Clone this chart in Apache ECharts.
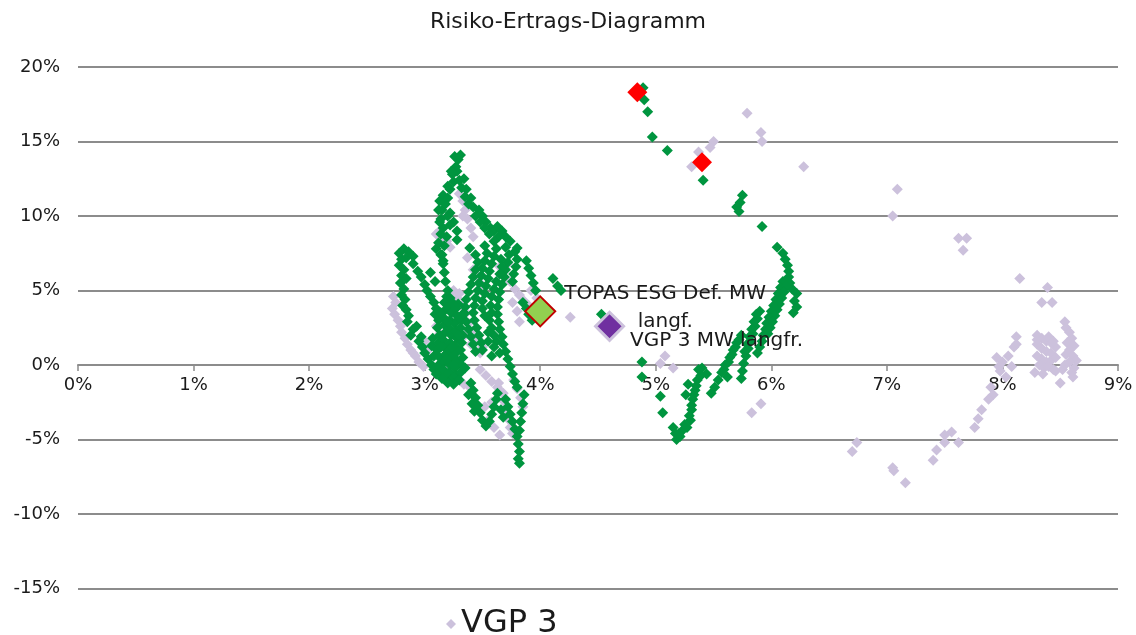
<!DOCTYPE html>
<html>
<head>
<meta charset="utf-8">
<title>Risiko-Ertrags-Diagramm</title>
<script src="https://cdn.jsdelivr.net/npm/echarts@6/dist/echarts.min.js"></script>
<style>
  html, body { margin: 0; padding: 0; background: #fff; }
  #chart { width: 1136px; height: 635px; }
</style>
</head>
<body>
<div id="chart"></div>
<script>
// Werte in Prozent: [Risiko, Ertrag]
const xTicks = [0, 1, 2, 3, 4, 5, 6, 7, 8, 9]
const yTicks = [-15, -10, -5, 0, 5, 10, 15, 20]

// TOPAS ESG Def. - einzelne Zeitfenster
const topasLeftLoop = [
  [2.78,7.5],[2.82,7.8],[2.86,7.6],[2.8,7.1],[2.84,7.2],[2.9,7.3],[2.78,6.7],[2.82,6.4],[2.8,6.0],
  [2.84,5.8],[2.79,5.5],[2.82,5.1],[2.8,4.7],[2.83,4.4],[2.81,4.0],[2.84,3.7],[2.86,3.3],[2.85,2.9],
  [2.9,2.4],[2.88,2.0],[2.95,1.6],[2.98,1.2],[3.0,0.8],[3.03,0.4],[3.06,0.0],[3.08,-0.3],[2.9,6.8],
  [2.94,6.3],[2.97,5.9],[3.0,5.4],[3.02,5.0],[3.05,4.6],[3.08,4.2],[3.1,3.8],[3.05,6.2],[3.09,5.6],
  [3.1,7.8],[3.14,7.4],[3.16,7.0],[2.93,2.6],[2.97,1.9]
]
const topasMainMass = [
  [3.07,1.8],[3.06,1.3],[3.08,0.6],
  [3.12,3.0],[3.11,2.5],[3.13,2.0],[3.12,1.5],[3.11,1.0],[3.13,0.5],[3.12,0.0],[3.14,-0.5],
  [3.17,4.2],[3.18,3.7],[3.16,3.2],[3.17,2.7],[3.18,2.2],[3.16,1.7],[3.17,1.2],[3.18,0.7],[3.17,0.2],[3.16,-0.3],[3.18,-0.8],
  [3.22,4.5],[3.21,4.0],[3.23,3.5],[3.22,3.0],[3.21,2.5],[3.23,2.0],[3.22,1.5],[3.21,1.0],[3.23,0.5],[3.22,0.0],[3.21,-0.5],[3.23,-1.0],
  [3.27,3.8],[3.28,3.3],[3.26,2.8],[3.27,2.3],[3.28,1.8],[3.26,1.3],[3.27,0.8],[3.28,0.3],[3.26,-0.2],[3.27,-0.7],
  [3.32,3.0],[3.31,2.5],[3.33,2.0],[3.32,1.5],[3.31,1.0],[3.33,0.5],[3.32,0.0],[3.31,-0.5],
  [3.09,3.4],[3.14,3.5],[3.19,4.6],[3.24,4.2],[3.29,4.1],[3.34,3.5],[3.35,-0.2],[3.3,-1.0],[3.25,-1.3],
  [3.2,-1.2],[3.15,-0.9],[3.1,-0.6],[3.14,1.2],[3.19,0.4],[3.24,1.2],[3.29,2.0],[3.2,2.9],[3.25,0.0]
]
const topasPeak = [
  [3.2,5.0],[3.18,5.6],[3.17,6.2],[3.16,6.8],[3.15,7.4],[3.17,8.0],[3.19,8.6],[3.16,9.2],[3.14,9.8],
  [3.15,10.4],[3.13,11.0],[3.16,11.4],[3.2,11.2],[3.22,11.8],[3.25,12.3],[3.24,12.8],[3.27,13.3],
  [3.29,13.8],[3.31,14.1],[3.28,13.0],[3.3,12.4],[3.32,11.9],[3.35,11.3],[3.38,10.8],[3.42,10.6],
  [3.47,10.4],[3.5,10.0],[3.53,9.6],[3.57,9.2],[3.6,9.0],[3.63,9.3],[3.67,9.0],[3.7,8.6],[3.74,8.3],
  [3.8,7.85],[3.28,9.0],[3.28,8.4],[3.39,7.85],[3.22,10.2],[3.25,9.6],
  [3.18,10.8],[3.2,10.0],[3.22,9.4],[3.12,10.4],[3.13,9.6],[3.14,8.8],[3.12,8.2],[3.2,12.0],
  [3.23,13.0],[3.26,14.0],[3.34,12.5],[3.36,11.8],[3.4,11.2],[3.44,10.0],[3.48,9.6],[3.52,9.2],
  [3.56,8.8],[3.64,8.6]
]
const topasMidMass = [
  [3.44,7.4],[3.46,6.9],[3.44,6.4],[3.42,5.9],[3.4,5.4],[3.38,4.9],[3.36,4.4],[3.35,3.9],[3.34,3.4],
  [3.36,2.9],[3.38,2.4],[3.4,1.9],[3.42,1.4],[3.44,0.9],
  [3.52,8.0],[3.54,7.5],[3.52,7.0],[3.5,6.5],[3.49,6.0],[3.47,5.5],[3.46,5.0],[3.44,4.5],[3.43,4.0],
  [3.42,3.5],[3.43,3.0],[3.45,2.5],[3.47,2.0],[3.49,1.5],[3.5,1.0],
  [3.6,8.3],[3.62,7.8],[3.6,7.3],[3.58,6.8],[3.56,6.3],[3.55,5.8],[3.53,5.3],[3.52,4.8],[3.5,4.3],
  [3.5,3.8],[3.52,3.3],
  [3.7,7.9],[3.73,7.4],[3.72,6.9],[3.7,6.4],[3.69,5.9],[3.67,5.4],[3.65,4.9],[3.64,4.4],[3.63,3.9],
  [3.63,3.4],[3.64,2.9],[3.65,2.4],[3.67,1.9],[3.68,1.4],[3.7,0.9],[3.72,0.4],[3.74,-0.1],[3.76,-0.6],[3.78,-1.1],
  [3.78,7.6],[3.8,7.1],[3.79,6.6],[3.77,6.1],[3.76,5.6],[3.88,7.0],[3.9,6.5],[3.92,6.0],[3.94,5.5],
  [3.96,5.0],[3.85,4.2],[3.88,3.8],[3.9,3.4],[3.93,3.0],[4.11,5.8],[4.15,5.3],[4.18,5.0],[4.53,3.4],
  [3.57,4.0],[3.58,3.5],[3.56,3.0],[3.58,2.5],[3.6,2.0],[3.62,1.6],[3.55,2.2],[3.66,7.1],[3.67,6.6],
  [3.65,6.1],[3.62,5.6],[3.6,5.1],[3.58,4.6]
]
const topasLowerTail = [
  [3.55,1.6],[3.6,1.2],[3.65,0.8],[3.58,0.6],
  [3.4,-1.2],[3.42,-1.7],[3.44,-2.2],[3.46,-2.7],[3.48,-3.2],[3.5,-3.7],[3.53,-4.1],[3.56,-3.8],
  [3.58,-3.3],[3.6,-2.8],[3.62,-2.3],[3.63,-1.9],[3.38,-2.0],[3.41,-2.6],[3.43,-3.1],
  [3.7,-2.3],[3.72,-2.8],[3.74,-3.3],[3.76,-3.8],[3.78,-4.3],[3.8,-4.8],[3.81,-5.3],[3.82,-5.8],
  [3.81,-6.3],[3.82,-6.6],[3.86,-2.0],[3.85,-2.6],[3.84,-3.2],[3.83,-3.8],[3.82,-4.4],[3.8,-1.5],
  [3.68,-3.5],[3.66,-3.0]
]
const topasUpperRight = [
  [4.89,18.6],[4.9,17.8],[4.93,17.0],[4.97,15.3],[5.1,14.4],[5.41,12.4],[5.75,11.4],[5.73,10.9],
  [5.7,10.6],[5.72,10.3],[5.92,9.3],[6.05,7.9]
]
const topasRightStrands = [
  [6.1,7.5],[6.12,7.1],[6.14,6.7],[6.15,6.3],[6.15,5.9],[6.16,5.5],[6.18,5.1],[6.22,4.8],[6.2,4.3],
  [6.22,3.9],[6.19,3.5],[6.1,5.6],[6.08,5.2],[6.06,4.8],[6.04,4.4],[6.02,4.0],[6.0,3.6],[5.98,3.2],
  [5.96,2.8],[5.95,2.4],[5.93,2.0],[5.92,1.6],[5.9,1.2],[5.88,0.8],
  [5.9,3.6],[5.88,3.1],[5.86,2.6],[5.84,2.1],[5.82,1.6],[5.8,1.1],[5.78,0.6],[5.76,0.1],[5.75,-0.4],[5.74,-0.9],
  [5.74,2.0],[5.7,1.5],[5.67,1.0],[5.64,0.5],[5.6,0.0],[5.57,-0.5],[5.54,-1.0],[5.51,-1.5],[5.48,-1.9],[5.62,-0.8],
  [5.44,-0.6],[5.4,-0.2],[5.37,-0.3],[5.36,-1.0],[5.34,-1.7],[5.32,-2.3],[5.31,-3.0],[5.3,-3.7],
  [5.27,-4.2],[5.23,-4.4],[5.21,-4.8],[5.18,-5.0],[5.15,-4.2],[5.17,-4.6],[5.28,-1.3],[5.26,-2.0],
  [4.88,0.2],[4.88,-0.8],[5.04,-2.1],[5.06,-3.2],
  [6.13,5.3],[6.11,4.9],[6.09,4.5],[6.07,4.1],[6.05,3.7],[6.03,3.3],[6.01,2.9],[5.99,2.5],[5.97,2.1],
  [5.87,3.4],[5.85,2.9],[5.83,2.4],[5.81,1.9],[5.79,1.4],[5.77,0.9],[5.72,1.7],[5.69,1.2],[5.66,0.7],
  [5.63,0.2],[5.59,-0.3],[5.39,-0.7],[5.35,-1.4],[5.33,-2.0],[5.31,-2.7],[5.29,-3.4],[5.25,-4.0],[5.2,-4.6]
]

// VGP 3 - einzelne Zeitfenster
const vgpLeft = [
  [2.73,4.6],[2.75,4.2],[2.72,3.8],[2.74,3.4],[2.77,3.0],[2.79,2.6],[2.8,2.2],[2.83,1.8],[2.85,1.4],
  [2.88,1.0],[2.92,0.6],[2.95,0.2],[2.99,-0.1],[2.9,0.8],[3.1,2.6],[3.13,2.1],[3.16,1.6],[3.19,1.2],
  [3.0,1.6],[3.03,1.0],[3.05,0.4],[3.13,9.0],[3.16,8.7],[3.19,8.3],[3.22,7.9],[3.15,8.2],[3.1,8.8],
  [3.3,11.5],[3.33,11.0],[3.35,10.4],[3.37,9.8],[3.4,9.2],[3.42,8.6],[3.33,10.0],
  [3.37,7.2],[3.42,6.4],[3.45,6.0],[3.48,5.5],[3.5,5.2],[3.25,5.0],[3.28,4.5],[3.32,4.0],[3.36,3.5],
  [3.33,3.3],[3.38,2.8],[3.42,2.3],[3.46,1.8],[3.5,1.2],[3.48,0.8],[3.3,4.8],[3.35,2.0],[3.4,1.4],
  [3.65,6.6],[3.68,6.2],[3.72,6.8],[3.74,5.6],[3.78,5.1],[3.82,4.7],[3.86,4.3],[3.9,4.0],[3.95,3.6],
  [3.98,3.2],[3.76,4.2],[3.8,3.6],[3.82,2.9],[3.92,5.0],[3.97,4.5],[4.26,3.2],
  [3.19,-0.1],[3.24,-0.5],[3.29,-0.9],[3.34,-1.3],[3.39,-1.5],[3.48,-0.3],[3.53,-0.7],[3.58,-1.1],
  [3.63,-1.5],[3.68,-1.9],[3.64,-1.2],[3.66,-1.8],[3.68,-2.4],[3.7,-3.0],[3.72,-3.6],[3.74,-4.2],
  [3.76,-4.6],[3.77,-1.0],[3.8,-1.6],[3.83,-2.2],[3.85,-2.8],[3.55,-3.7],[3.6,-4.2],[3.65,-4.7],
  [3.58,-2.5],[3.52,-2.8]
]
const vgpCenter = [
  [5.04,0.1],[5.08,0.6],[5.15,-0.2],[5.83,-3.2],[5.91,-2.6],[5.79,16.9],[5.91,15.6],[5.92,15.0],
  [6.28,13.3],[5.5,15.0],[5.47,14.6],[5.37,14.3],[5.31,13.3]
]
const vgpRight = [
  [7.09,11.8],[7.05,10.0],[7.62,8.5],[7.69,8.5],[7.66,7.7],[8.15,5.8],[8.39,5.2],[8.34,4.2],[8.43,4.2],[8.54,2.9],
  [8.3,2.0],[8.34,1.8],[8.38,1.6],[8.42,1.5],[8.3,1.4],[8.34,1.1],[8.38,0.9],[8.42,0.8],[8.46,1.2],
  [8.3,0.6],[8.34,0.4],[8.38,0.2],[8.42,0.3],[8.46,0.5],[8.32,0.0],[8.36,-0.2],[8.4,-0.1],[8.44,-0.3],
  [8.28,-0.5],[8.35,-0.6],[8.46,-0.4],[8.3,1.7],[8.4,1.9],[8.44,1.6],
  [8.55,2.5],[8.58,2.2],[8.6,1.8],[8.56,1.5],[8.62,1.3],[8.58,1.0],[8.55,0.7],[8.61,0.6],[8.64,0.3],
  [8.58,0.2],[8.54,0.0],[8.62,-0.2],[8.6,-0.5],[8.52,-0.3],[8.5,-1.2],[8.61,-0.8],
  [8.12,1.9],[8.12,1.4],[8.1,1.2],[7.95,0.5],[8.0,0.2],[8.05,0.6],[8.08,-0.1],[7.98,-0.4],[8.03,-0.8],
  [7.97,-0.1],[7.9,-1.5],[7.92,-2.0],[7.88,-2.3],[7.82,-3.0],[7.79,-3.6],[7.76,-4.2],[7.62,-5.2],
  [7.56,-4.5],[7.5,-4.7],[7.5,-5.2],[7.43,-5.7],[7.4,-6.4],[7.05,-6.9],[7.06,-7.1],[7.16,-7.9],
  [6.7,-5.8],[6.74,-5.2]
]

const redPoints = [[4.84,18.3],[5.4,13.6]]
const topasMean = [[4.0,3.6]]
const vgpMean = [[4.6,2.6]]

const topasAll = [].concat(topasLeftLoop, topasMainMass, topasPeak, topasMidMass,
  topasLowerTail, topasUpperRight, topasRightStrands)
const vgpAll = [].concat(vgpLeft, vgpCenter, vgpRight)

const font = 'DejaVu Sans'
const chart = echarts.init(document.getElementById('chart'))

const option = {
  animation: false,
  backgroundColor: '#fff',
  textStyle: { fontFamily: font },
  title: {
    text: 'Risiko-Ertrags-Diagramm',
    left: 'center',
    top: 6,
    textStyle: { fontFamily: font, fontSize: 22, fontWeight: 'normal', color: '#1a1a1a' }
  },
  legend: {
    data: ['VGP 3'],
    left: 441,
    top: 603,
    icon: 'diamond',
    itemWidth: 10,
    itemHeight: 10,
    itemGap: 10,
    textStyle: { fontFamily: font, fontSize: 32, color: '#1a1a1a' }
  },
  grid: { left: 78, right: 18, top: 67, bottom: 46.5 },
  xAxis: {
    type: 'value',
    min: xTicks[0],
    max: xTicks[xTicks.length - 1],
    interval: 1,
    // Achse auf Höhe 0% (223.5 px oberhalb des Rasterbodens)
    offset: -223.5,
    axisLine: { onZero: false, lineStyle: { color: '#8c8c8c', width: 2 } },
    axisTick: { show: true, length: 6, lineStyle: { color: '#8c8c8c', width: 1.5 } },
    axisLabel: { margin: 11, fontSize: 18, color: '#1a1a1a', formatter: '{value}%' },
    splitLine: { show: false }
  },
  yAxis: {
    type: 'value',
    min: yTicks[0],
    max: yTicks[yTicks.length - 1],
    interval: 5,
    axisLine: { show: false },
    axisTick: { show: false },
    axisLabel: { margin: 18, fontSize: 18, color: '#1a1a1a', formatter: '{value}%' },
    splitLine: { lineStyle: { color: '#8c8c8c', width: 2 } }
  },
  series: [
    {
      name: 'VGP 3',
      type: 'scatter',
      symbol: 'diamond',
      symbolSize: 11,
      itemStyle: { color: '#CCC1DC', opacity: 1 },
      data: vgpAll
    },
    {
      name: 'TOPAS ESG Def.',
      type: 'scatter',
      symbol: 'diamond',
      symbolSize: 11,
      itemStyle: { color: '#00953F', opacity: 1 },
      data: topasAll
    },
    {
      name: 'Aktuell',
      type: 'scatter',
      symbol: 'diamond',
      symbolSize: 20,
      itemStyle: { color: '#FF0000', opacity: 1 },
      data: redPoints
    },
    {
      name: 'TOPAS ESG Def. MW langf.',
      type: 'scatter',
      symbol: 'diamond',
      symbolSize: 30,
      itemStyle: { color: '#92D050', borderColor: '#C00000', borderWidth: 2, opacity: 1 },
      label: {
        show: true,
        position: [141, 12],
        align: 'center',
        verticalAlign: 'middle',
        lineHeight: 28,
        fontFamily: font,
        fontSize: 20,
        color: '#1a1a1a',
        formatter: 'TOPAS ESG Def. MW\nlangf.'
      },
      data: topasMean
    },
    {
      name: 'VGP 3 MW langfr.',
      type: 'scatter',
      symbol: 'diamond',
      symbolSize: 28,
      itemStyle: { color: '#7030A0', borderColor: '#CCC1DC', borderWidth: 3, opacity: 1 },
      label: {
        show: true,
        position: [36, 30],
        align: 'left',
        verticalAlign: 'middle',
        fontFamily: font,
        fontSize: 20,
        color: '#1a1a1a',
        formatter: 'VGP 3 MW langfr.'
      },
      data: vgpMean
    }
  ]
}

chart.setOption(option)
</script>
</body>
</html>
